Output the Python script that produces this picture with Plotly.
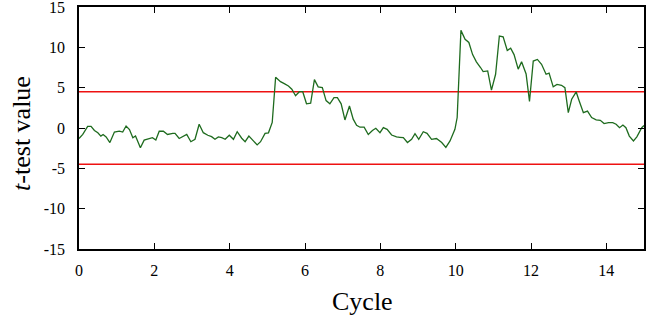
import plotly.graph_objects as go

cycle = [0.00, 0.10, 0.23, 0.32, 0.41, 0.50, 0.58, 0.64, 0.72, 0.82, 0.94, 1.07, 1.16, 1.25, 1.34, 1.43, 1.50,
         1.63, 1.73, 1.87, 1.95, 2.04, 2.13, 2.24, 2.35, 2.49, 2.55, 2.66, 2.76, 2.86, 2.97, 3.08, 3.19,
         3.30, 3.42, 3.52, 3.61, 3.70, 3.79, 3.88, 3.99, 4.10, 4.20, 4.32, 4.41, 4.51, 4.63, 4.73, 4.82,
         4.94, 5.03, 5.13, 5.22, 5.35, 5.45, 5.56, 5.65, 5.75, 5.85, 5.94, 6.04, 6.15, 6.25, 6.35, 6.46,
         6.56, 6.66, 6.77, 6.86, 6.96, 7.06, 7.18, 7.28, 7.37, 7.46, 7.57, 7.68, 7.79, 7.88, 7.99, 8.08,
         8.18, 8.30, 8.43, 8.52, 8.61, 8.72, 8.83, 8.92, 9.02, 9.14, 9.24, 9.36, 9.49, 9.63, 9.74, 9.85,
         9.98, 10.04, 10.14, 10.25, 10.35, 10.45, 10.55, 10.66, 10.73, 10.85, 10.95, 11.06, 11.16, 11.26,
         11.37, 11.46, 11.55, 11.66, 11.75, 11.87, 11.96, 12.06, 12.17, 12.28, 12.40, 12.48, 12.59, 12.69,
         12.81, 12.90, 12.99, 13.08, 13.20, 13.28, 13.39, 13.50, 13.61, 13.73, 13.84, 13.94, 14.06, 14.17,
         14.26, 14.35, 14.44, 14.52, 14.61, 14.72, 14.81, 14.94, 15.00]
t_value = [-1.3, -0.8, 0.2, 0.2, -0.3, -0.6, -1.0, -0.8, -1.1, -1.8, -0.5, -0.4, -0.5, 0.25, -0.2, -1.2, -1.0,
           -2.45, -1.5, -1.3, -1.2, -1.5, -0.4, -0.4, -0.8, -0.66, -0.66, -1.3, -1.1, -0.8, -1.7, -1.4, 0.46,
           -0.58, -0.9, -1.07, -1.4, -1.1, -1.2, -1.4, -0.9, -1.4, -0.46, -1.27, -1.7, -1.0, -1.6, -2.1, -1.7,
           -0.66, -0.6, 0.7, 6.3, 5.75, 5.5, 5.2, 4.8, 4.0, 4.5, 4.5, 3.0, 3.07, 6.0, 5.1, 5.0,
           3.4, 3.0, 3.76, 3.76, 3.0, 1.0, 2.73, 1.1, 0.34, 0.1, 0.1, -0.8, -0.3, -0.04, -0.58, 0.04,
           -0.17, -0.87, -1.1, -1.15, -1.2, -1.8, -1.4, -0.7, -1.4, -0.46, -0.66, -1.4, -1.3, -1.8, -2.4, -1.6,
           -0.17, 1.3, 12.1, 11.0, 10.6, 9.1, 8.2, 7.5, 7.0, 7.07, 4.7, 6.66, 11.4, 11.3,
           9.6, 9.9, 9.1, 7.3, 8.2, 6.7, 3.3, 8.3, 8.5, 7.9, 6.66, 6.8, 5.1, 5.4,
           5.3, 5.0, 1.9, 3.56, 4.47, 3.35, 1.9, 2.1, 1.3, 1.0, 0.96, 0.55, 0.67, 0.67,
           0.46, 0.04, 0.37, 0.04, -1.0, -1.6, -1.1, 0.04, 0.3]

threshold = 4.5
x_ticks = [0, 2, 4, 6, 8, 10, 12, 14]
y_ticks = [-15, -10, -5, 0, 5, 10, 15]
y_tick_labels = ["-15", "-10", "-5", "0", "5", "10", "15"]
x_title = "Cycle"
y_title = "<i>t</i>-test value"

FONT = "Liberation Serif"

fig = go.Figure()
for th in (threshold, -threshold):
    fig.add_trace(go.Scatter(x=[0, 15], y=[th, th], mode="lines",
                             line=dict(color="#ee1111", width=1.5), hoverinfo="skip", showlegend=False))
fig.add_trace(go.Scatter(x=cycle, y=t_value, mode="lines",
                         line=dict(color="#1e6b1e", width=1.3), showlegend=False))

axis_common = dict(showgrid=False, zeroline=False, showline=True, linecolor="black", linewidth=1.5,
                   mirror="ticks", ticks="inside", ticklen=6, tickwidth=1.2, tickcolor="black",
                   automargin=False, ticklabeloverflow="allow",
                   tickfont=dict(family=FONT, size=16, color="black"))
fig.update_xaxes(range=[0, 15], tickvals=x_ticks, ticktext=[str(v) for v in x_ticks],
                 ticklabelstandoff=6, **axis_common)
fig.update_yaxes(range=[-15, 15], tickvals=y_ticks, ticktext=y_tick_labels,
                 ticklabelstandoff=9, **axis_common)

fig.add_annotation(text=x_title, xref="paper", yref="paper", x=0.501, y=-0.215,
                   xanchor="center", yanchor="middle", showarrow=False,
                   font=dict(family=FONT, size=26, color="black"))
fig.add_annotation(text=y_title, xref="paper", yref="paper", x=-0.103, y=0.479,
                   xanchor="center", yanchor="middle", textangle=-90, showarrow=False,
                   font=dict(family=FONT, size=26, color="black"))

fig.update_layout(width=657, height=324, margin=dict(l=79, r=13, t=7, b=75, autoexpand=False),
                  plot_bgcolor="white", paper_bgcolor="white", font=dict(family=FONT))
fig.write_html("out.html", config={"displayModeBar": False},
               post_script="document.body.style.margin='0';document.body.style.padding='0';")
